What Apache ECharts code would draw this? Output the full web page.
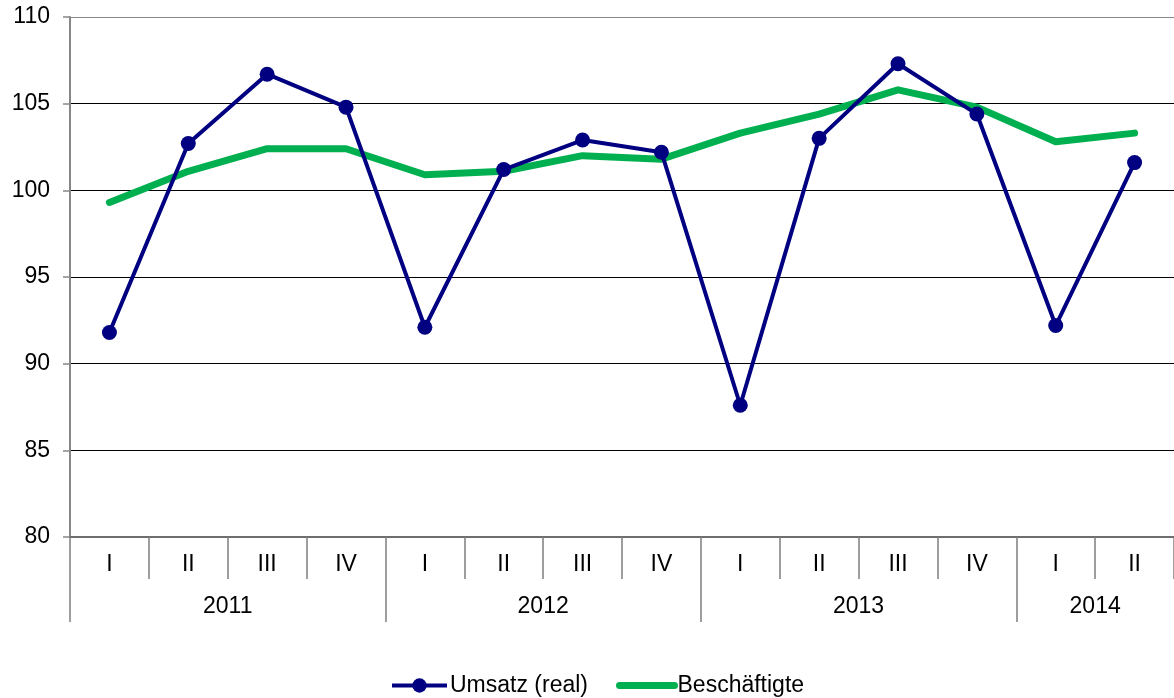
<!DOCTYPE html>
<html>
<head>
<meta charset="utf-8">
<script src="https://cdn.jsdelivr.net/npm/echarts@6/dist/echarts.min.js"></script>
<style>html,body{margin:0;padding:0;background:#fff}#c{width:1174px;height:698px}</style>
</head>
<body>
<div id="c"></div>
<script>
const quarters = ['I','II','III','IV','I','II','III','IV','I','II','III','IV','I','II'];
const years = ['2011','2012','2013','2014'];
const yearSizes = [4,4,4,2];
const umsatz = [91.8,102.7,106.7,104.8,92.1,101.2,102.9,102.2,87.6,103.0,107.3,104.4,92.2,101.6];
const beschaeftigte = [99.3,101.1,102.4,102.4,100.9,101.1,102.0,101.8,103.3,104.4,105.8,104.8,102.8,103.3];
const yTicks = {min:80, max:110, step:5};

// build half-quarter point axis for year groups
const halfPoints = [];
const yearTickSet = new Set([0]);
const labelIdx = {};
let pos = 0;
for (let i=0;i<years.length;i++){
  labelIdx[pos + yearSizes[i]] = years[i];
  pos += yearSizes[i]*2;
  if (i < years.length-1) yearTickSet.add(pos);
}
for (let i=0;i<=quarters.length*2;i++) halfPoints.push(labelIdx[i] || '');

const font = 'Liberation Sans, Arial, sans-serif';
const chart = echarts.init(document.getElementById('c'));
chart.setOption({
  animation:false,
  textStyle:{fontFamily:font},
  grid:{left:70, top:17, right:-3, bottom:161, containLabel:false},
  legend:{
    left:390, top:674, padding:0, itemWidth:55, itemHeight:18, itemGap:28,
    textStyle:{fontSize:23, color:'#000', fontFamily:font, padding:[0,0,0,-2]},
    data:[
      {name:'Umsatz (real)', lineStyle:{width:4}},
      {name:'Beschäftigte', lineStyle:{width:7, cap:'round'}, itemStyle:{opacity:0}}
    ]
  },
  xAxis:[{
    type:'category', data:quarters, boundaryGap:true,
    axisLine:{lineStyle:{color:'#6e6e6e', width:2}},
    axisTick:{show:true, length:42, interval:0, lineStyle:{color:'#7f7f7f', width:1.5}},
    axisLabel:{interval:0, fontSize:23, color:'#000', margin:16, fontFamily:font}
  },{
    type:'category', data:halfPoints, boundaryGap:false, position:'bottom',
    axisLine:{show:false},
    axisTick:{show:true, length:85, interval:function(i){return yearTickSet.has(i);}, lineStyle:{color:'#7f7f7f', width:1.5}},
    axisLabel:{interval:function(i,v){return v!=='';}, fontSize:23, color:'#000', margin:58, fontFamily:font}
  }],
  yAxis:{
    type:'value', min:yTicks.min, max:yTicks.max, interval:yTicks.step,
    axisLine:{show:true, lineStyle:{color:'#868686', width:2}},
    axisTick:{show:true, length:7, lineStyle:{color:'#868686', width:1.5}},
    axisLabel:{fontSize:23, color:'#000', margin:20, fontFamily:font},
    splitLine:{show:true, lineStyle:{color:['#000','#000','#000','#000','#000','#000','#8a8a8a'], width:1}}
  },
  series:[{
    name:'Umsatz (real)', type:'line', data:umsatz,
    symbol:'circle', symbolSize:15, z:3,
    itemStyle:{color:'#000080'},
    lineStyle:{color:'#000080', width:4}
  },{
    name:'Beschäftigte', type:'line', data:beschaeftigte,
    symbol:'none', showSymbol:false, z:2,
    itemStyle:{color:'#00b050'},
    lineStyle:{color:'#00b050', width:7, cap:'round', join:'round'}
  }]
});
</script>
</body>
</html>
